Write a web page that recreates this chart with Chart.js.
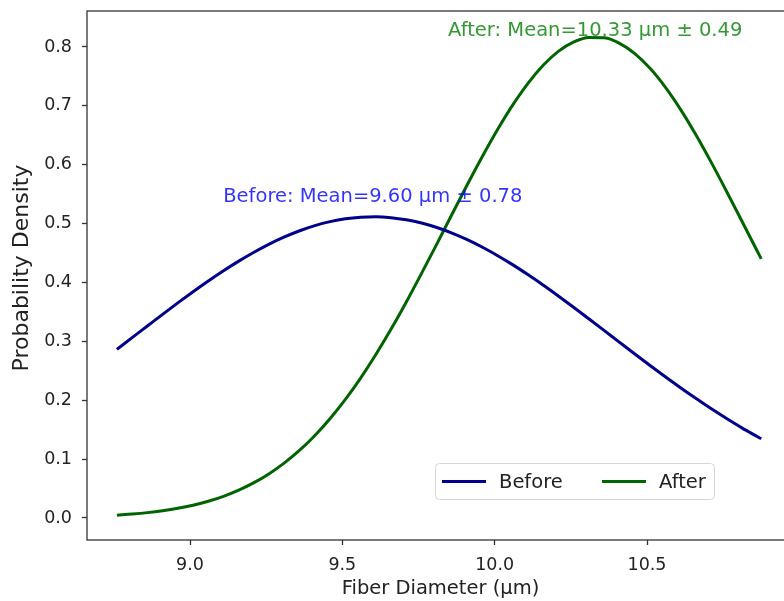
<!DOCTYPE html>
<html><head><meta charset="utf-8">
<script src="https://cdn.jsdelivr.net/npm/chart.js@4.4.0/dist/chart.umd.min.js"></script>
<style>
html,body{margin:0;padding:0;overflow:hidden;background:#fff;}
#wrap{width:784px;height:601px;overflow:hidden;position:relative;}
canvas{display:block;}
</style></head><body>
<div id="wrap"><canvas id="c" width="800" height="601"></canvas></div>
<script>
// ---- data ----
const xValues = [8.76, 8.81, 8.86, 8.91, 8.96, 9.01, 9.06, 9.11, 9.16, 9.21, 9.26, 9.31, 9.36, 9.41, 9.46, 9.51, 9.56, 9.61, 9.66, 9.71, 9.76, 9.81, 9.86, 9.91, 9.96, 10.01, 10.06, 10.11, 10.16, 10.21, 10.26, 10.31, 10.36, 10.41, 10.46, 10.51, 10.56, 10.61, 10.66, 10.71, 10.76, 10.81, 10.86, 10.875];
const beforeDensity = [0.2864, 0.3063, 0.3261, 0.3459, 0.3653, 0.3842, 0.4025, 0.4199, 0.4363, 0.4514, 0.4652, 0.4773, 0.4879, 0.4966, 0.5033, 0.5081, 0.5108, 0.5115, 0.5100, 0.5064, 0.5009, 0.4933, 0.4839, 0.4727, 0.4598, 0.4455, 0.4299, 0.4130, 0.3953, 0.3767, 0.3576, 0.3380, 0.3182, 0.2983, 0.2785, 0.2590, 0.2398, 0.2212, 0.2032, 0.1858, 0.1693, 0.1535, 0.1388, 0.1345];
const afterDensity = [0.0048, 0.0067, 0.0091, 0.0123, 0.0164, 0.0217, 0.0284, 0.0368, 0.0472, 0.0600, 0.0753, 0.0936, 0.1151, 0.1402, 0.1690, 0.2015, 0.2377, 0.2776, 0.3208, 0.3669, 0.4154, 0.4652, 0.5158, 0.5659, 0.6143, 0.6601, 0.7020, 0.7387, 0.7693, 0.7929, 0.8087, 0.8163, 0.8155, 0.8062, 0.7887, 0.7637, 0.7318, 0.6940, 0.6512, 0.6048, 0.5559, 0.5056, 0.4551, 0.4401];
const seriesLabels = ['Before', 'After'];
const annotationTexts = ['Before: Mean=9.60 µm ± 0.78', 'After: Mean=10.33 µm ± 0.49'];
const annotationX = [9.60, 10.33];
const annotationY = [0.545, 0.828];
const xTicks = [9.0, 9.5, 10.0, 10.5];
const yTicks = [0.0, 0.1, 0.2, 0.3, 0.4, 0.5, 0.6, 0.7, 0.8];
const xAxisTitle = 'Fiber Diameter (µm)';
const yAxisTitle = 'Probability Density';

// ---- styling ----
const FONT = "'DejaVu Sans', sans-serif";
const lineColors = ['#00008b', '#006400'];
const annColors = ['rgba(0,0,255,0.8)', 'rgba(0,128,0,0.8)'];
const TEXT = '#222';
const SPINE = '#333';

const toPts = ys => xValues.map((x, i) => ({x: x, y: ys[i]}));

const framePlugin = {
  id: 'frame',
  afterDatasetsDraw(chart) {
    const {ctx, chartArea: a} = chart;
    ctx.save();
    ctx.strokeStyle = SPINE;
    ctx.lineWidth = 1.3;
    ctx.strokeRect(a.left, a.top, a.right - a.left, a.bottom - a.top);
    ctx.restore();
  }
};

const annPlugin = {
  id: 'ann',
  afterDatasetsDraw(chart) {
    const {ctx, scales} = chart;
    ctx.save();
    ctx.font = '19.5px ' + FONT;
    ctx.textAlign = 'center';
    ctx.textBaseline = 'middle';
    annotationTexts.forEach((t, i) => {
      ctx.fillStyle = annColors[i];
      ctx.fillText(t, scales.x.getPixelForValue(annotationX[i]), scales.y.getPixelForValue(annotationY[i]));
    });
    // y axis title
    ctx.translate(22, 268);
    ctx.rotate(-Math.PI / 2);
    ctx.fillStyle = TEXT;
    ctx.font = '22px ' + FONT;
    ctx.fillText(yAxisTitle, 0, 0);
    ctx.restore();
  }
};

const legendPlugin = {
  id: 'customLegend',
  afterDraw(chart) {
    const {ctx} = chart;
    const bx = 435, by = 463, bw = 279, bh = 36, r = 4;
    ctx.save();
    ctx.beginPath();
    ctx.roundRect(bx + 0.5, by + 0.5, bw, bh, r);
    ctx.fillStyle = 'rgba(255,255,255,0.8)';
    ctx.fill();
    ctx.strokeStyle = '#d6d6d6';
    ctx.lineWidth = 1;
    ctx.stroke();
    const cy = by + bh / 2 + 0.5;
    const entries = [{lx: 442, tx: 499}, {lx: 602, tx: 659}];
    ctx.font = '19.5px ' + FONT;
    ctx.textBaseline = 'middle';
    ctx.textAlign = 'left';
    chart.data.datasets.forEach((ds, i) => {
      const e = entries[i];
      ctx.strokeStyle = ds.borderColor;
      ctx.lineWidth = 3;
      ctx.beginPath();
      ctx.moveTo(e.lx, cy);
      ctx.lineTo(e.lx + 44, cy);
      ctx.stroke();
      ctx.fillStyle = TEXT;
      ctx.fillText(ds.label, e.tx, cy + 1);
    });
    ctx.restore();
  }
};

new Chart(document.getElementById('c'), {
  type: 'line',
  data: {
    datasets: [
      {label: seriesLabels[0], data: toPts(beforeDensity), borderColor: lineColors[0], borderWidth: 3, pointRadius: 0, cubicInterpolationMode: 'monotone', fill: false},
      {label: seriesLabels[1], data: toPts(afterDensity), borderColor: lineColors[1], borderWidth: 3, pointRadius: 0, cubicInterpolationMode: 'monotone', fill: false}
    ]
  },
  options: {
    responsive: false,
    devicePixelRatio: 1,
    animation: false,
    events: [],
    layout: {padding: {left: 0, top: 11, right: 6, bottom: 0}},
    plugins: {legend: {display: false}, tooltip: {enabled: false}, title: {display: false}},
    scales: {
      x: {
        type: 'linear', min: 8.6619, max: 10.9825,
        afterFit(s) { s.height = 61; s.paddingLeft = 0; s.paddingRight = 0; },
        afterBuildTicks(s) { s.ticks = xTicks.map(v => ({value: v})); },
        grid: {display: true, drawOnChartArea: false, drawTicks: true, tickLength: 5, tickColor: SPINE, tickWidth: 1.3},
        border: {display: false},
        ticks: {padding: 10, color: TEXT, font: {family: FONT, size: 17.5}, maxRotation: 0, autoSkip: false, callback: v => Number(v).toFixed(1)},
        title: {display: true, text: xAxisTitle, color: TEXT, font: {family: FONT, size: 19.5}, padding: {top: 0, bottom: 0}}
      },
      y: {
        type: 'linear', min: -0.0374, max: 0.8611,
        afterFit(s) { s.width = 87; s.paddingTop = 0; s.paddingBottom = 0; },
        afterBuildTicks(s) { s.ticks = yTicks.map(v => ({value: v})); },
        grid: {display: true, drawOnChartArea: false, drawTicks: true, tickLength: 5, tickColor: SPINE, tickWidth: 1.3},
        border: {display: false},
        ticks: {padding: 10, color: TEXT, font: {family: FONT, size: 17.5}, autoSkip: false, callback: v => Number(v).toFixed(1)}
      }
    }
  },
  plugins: [framePlugin, annPlugin, legendPlugin]
});
</script>
</body></html>
